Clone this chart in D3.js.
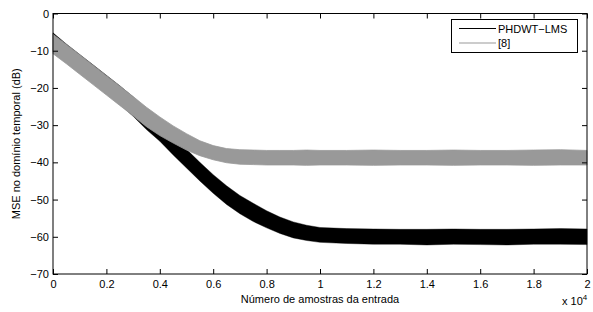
<!DOCTYPE html>
<html><head><meta charset="utf-8">
<script src="https://cdn.jsdelivr.net/npm/d3@7"></script>
<style>
body{margin:0;background:#fff}
text{font-family:Arial,"Liberation Sans",Helvetica,sans-serif}
</style></head>
<body><svg id="c" width="593" height="312"></svg>
<script>
// ---- data ----
const samples = [0,500,1000,1500,2000,2500,3000,3500,4000,4500,5000,5500,6000,6500,7000,7500,8000,8500,9000,9500,10000,11000,12000,13000,14000,15000,16000,17000,18000,19000,20000];
// PHDWT-LMS: upper / lower envelope of the noisy curve (dB)
const phdwtUpper = [-5.2,-8.2,-11.0,-13.8,-16.6,-19.4,-22.4,-25.8,-29.3,-33.0,-36.5,-40.0,-43.3,-46.3,-48.9,-51.0,-53.0,-54.7,-56.0,-56.9,-57.5,-57.8,-57.9,-58.0,-58.0,-57.9,-58.0,-58.0,-57.9,-57.8,-57.9];
const phdwtLower = [-10.3,-13.0,-15.8,-18.6,-21.5,-24.4,-27.6,-31.2,-34.3,-38.0,-41.5,-45.0,-48.3,-51.3,-53.8,-55.9,-57.6,-59.1,-60.3,-61.0,-61.5,-61.8,-62.0,-62.0,-62.2,-62.0,-62.1,-62.2,-62.0,-62.0,-62.1];
// [8]: upper / lower envelope (dB)
const ref8Upper = [-5.6,-8.3,-11.1,-13.9,-16.7,-19.5,-22.3,-25.2,-27.8,-30.2,-32.3,-34.2,-35.5,-36.3,-36.6,-36.7,-36.8,-36.8,-36.8,-36.7,-36.8,-36.8,-36.7,-36.8,-36.8,-36.7,-36.8,-36.8,-36.7,-36.6,-36.8];
const ref8Lower = [-10.8,-13.5,-16.3,-19.1,-21.9,-24.7,-27.5,-30.4,-32.8,-34.8,-36.7,-38.2,-39.3,-40.1,-40.5,-40.6,-40.7,-40.7,-40.7,-40.8,-40.7,-40.7,-40.8,-40.7,-40.7,-40.8,-40.7,-40.7,-40.8,-40.7,-40.7];

const seriesNames = ["PHDWT\u2212LMS","[8]"];
const seriesColors = ["#000000","#999999"];
const xTicks = [0,2000,4000,6000,8000,10000,12000,14000,16000,18000,20000];
const xTickLabels = ["0","0.2","0.4","0.6","0.8","1","1.2","1.4","1.6","1.8","2"];
const yTicks = [-70,-60,-50,-40,-30,-20,-10,0];
const yTickLabels = ["\u221270","\u221260","\u221250","\u221240","\u221230","\u221220","\u221210","0"];
const xLabel = "Número de amostras da entrada";
const yLabel = "MSE no domínio temporal (dB)";

// ---- layout ----
const L = 53, R = 587, T = 13.5, B = 274;
const svg = d3.select("#c");
const x = d3.scaleLinear().domain([0,20000]).range([L,R]);
const y = d3.scaleLinear().domain([-70,0]).range([B,T]);

const plot = svg.append("g");
function band(upper, lower, color, sw){
  const d = samples.map((s,i)=>({s, u:upper[i], l:lower[i]}));
  const area = d3.area().x(p=>x(p.s)).y0(p=>y(p.l)).y1(p=>y(p.u));
  plot.append("path").attr("d", area(d)).attr("fill", color)
      .attr("stroke", color).attr("stroke-width", sw);
}
band(phdwtUpper, phdwtLower, seriesColors[0], 0.4);
band(ref8Upper, ref8Lower, seriesColors[1], 0.8);

// axes
const fs = 11;
const xb = svg.append("g").attr("transform",`translate(0,${B})`)
  .call(d3.axisBottom(x).tickValues(xTicks).tickFormat((d,i)=>xTickLabels[i]).tickSize(-5).tickPadding(6).tickSizeOuter(0));
const xt = svg.append("g").attr("transform",`translate(0,${T})`)
  .call(d3.axisTop(x).tickValues(xTicks).tickFormat("").tickSize(-5).tickSizeOuter(0));
const yl = svg.append("g").attr("transform",`translate(${L},0)`)
  .call(d3.axisLeft(y).tickValues(yTicks).tickFormat((d,i)=>yTickLabels[i]).tickSize(-5).tickPadding(4).tickSizeOuter(0));
const yr = svg.append("g").attr("transform",`translate(${R},0)`)
  .call(d3.axisRight(y).tickValues(yTicks).tickFormat("").tickSize(-5).tickSizeOuter(0));
[xb,xt,yl,yr].forEach(g=>{
  g.select(".domain").remove();
  g.selectAll("line").attr("stroke","#000");
  g.selectAll("text").attr("font-size",fs).attr("fill","#000")
   .attr("font-family","Arial, 'Liberation Sans', Helvetica, sans-serif");
});
svg.append("rect").attr("x",L).attr("y",T).attr("width",R-L).attr("height",B-T)
  .attr("fill","none").attr("stroke","#000").attr("stroke-width",1);

// axis labels
svg.append("text").attr("x",(L+R)/2).attr("y",303).attr("text-anchor","middle")
  .attr("font-size",fs).text(xLabel);
const ex = svg.append("text").attr("x",562).attr("y",305).attr("font-size",fs);
ex.append("tspan").text("x 10");
ex.append("tspan").attr("font-size",8).attr("dy",-5).text("4");
svg.append("text").attr("transform",`translate(20,${(T+B)/2}) rotate(-90)`)
  .attr("text-anchor","middle").attr("font-size",fs).text(yLabel);

// legend
const lg = svg.append("g");
lg.append("rect").attr("x",451.5).attr("y",19.5).attr("width",126).attr("height",33)
  .attr("fill","#fff").attr("stroke","#000").attr("stroke-width",1);
seriesNames.forEach((n,i)=>{
  const yy = 28.5 + i*14.5;
  lg.append("line").attr("x1",459).attr("x2",496).attr("y1",yy).attr("y2",yy)
    .attr("stroke",seriesColors[i]).attr("stroke-width",1);
  lg.append("text").attr("x",498).attr("y",yy+4).attr("font-size",fs).text(n);
});
</script></body></html>
